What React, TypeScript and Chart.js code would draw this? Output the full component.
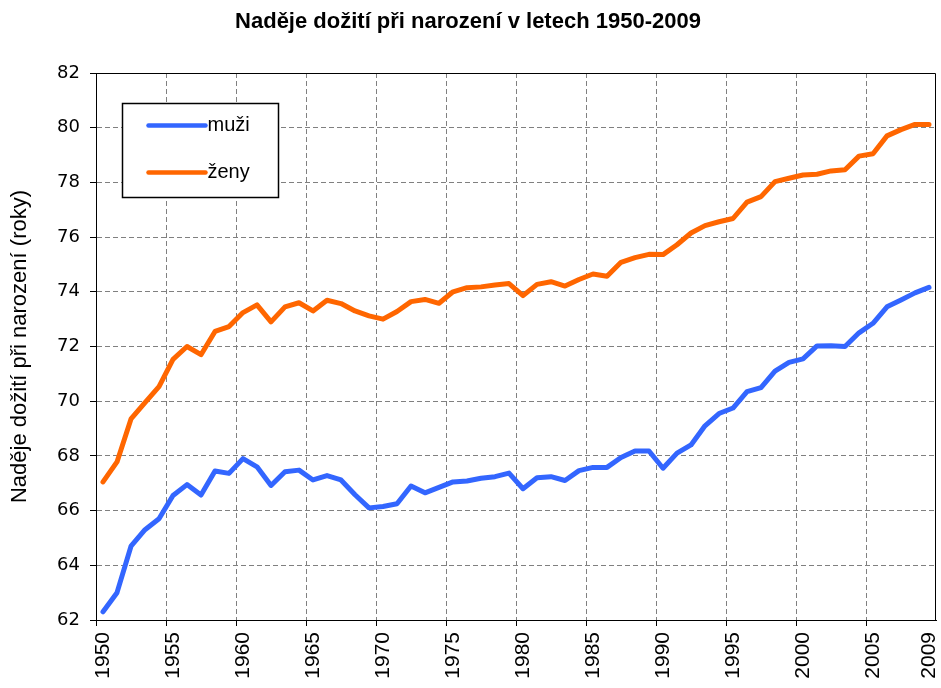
import React, { useEffect, useRef } from 'react';
import { Chart, registerables } from 'chart.js';

Chart.register(...registerables);

const TITLE = 'Naděje dožití při narození v letech 1950-2009';
const Y_TITLE = 'Naděje dožití při narození (roky)';

const years = [
  '1950', '1951', '1952', '1953', '1954', '1955', '1956', '1957', '1958', '1959',
  '1960', '1961', '1962', '1963', '1964', '1965', '1966', '1967', '1968', '1969',
  '1970', '1971', '1972', '1973', '1974', '1975', '1976', '1977', '1978', '1979',
  '1980', '1981', '1982', '1983', '1984', '1985', '1986', '1987', '1988', '1989',
  '1990', '1991', '1992', '1993', '1994', '1995', '1996', '1997', '1998', '1999',
  '2000', '2001', '2002', '2003', '2004', '2005', '2006', '2007', '2008', '2009',
];

const tickLabels = ['1950', '1955', '1960', '1965', '1970', '1975', '1980', '1985', '1990', '1995', '2000', '2005', '2009'];

const muzi = [
  62.3, 63.0, 64.7, 65.3, 65.7, 66.55, 66.95, 66.57, 67.45, 67.36,
  67.9, 67.6, 66.92, 67.42, 67.48, 67.12, 67.28, 67.12, 66.58, 66.1,
  66.15, 66.25, 66.9, 66.65, 66.85, 67.05, 67.08, 67.18, 67.24, 67.37,
  66.8, 67.2, 67.24, 67.1, 67.46, 67.58, 67.58, 67.94, 68.18, 68.18,
  67.55, 68.1, 68.4, 69.1, 69.55, 69.75, 70.35, 70.5, 71.1, 71.42,
  71.55, 72.02, 72.03, 72.0, 72.5, 72.85, 73.45, 73.7, 73.96, 74.16,
];

const zeny = [
  67.05, 67.78, 69.35, 69.95, 70.53, 71.53, 72.0, 71.7, 72.55, 72.73,
  73.24, 73.52, 72.9, 73.45, 73.6, 73.3, 73.69, 73.57, 73.3, 73.12,
  73.0, 73.28, 73.64, 73.72, 73.58, 74.0, 74.15, 74.18, 74.25, 74.3,
  73.86, 74.27, 74.37, 74.21, 74.45, 74.65, 74.57, 75.08, 75.25, 75.37,
  75.36, 75.72, 76.15, 76.42, 76.56, 76.68, 77.28, 77.48, 78.03, 78.15,
  78.27, 78.3, 78.42, 78.46, 78.96, 79.05, 79.7, 79.93, 80.12, 80.12,
];

const Y_MIN = 62;
const Y_MAX = 82;
const Y_STEP = 2;

const FONT = "'Liberation Sans', Arial, sans-serif";
const TICK_FONT = "'DejaVu Sans', 'Liberation Sans', sans-serif";

const framePlugin = {
  id: 'frameAndLegend',
  afterDatasetsDraw(chart: any) {
    const { ctx, chartArea } = chart;
    const { left, top, right } = chartArea;
    ctx.save();
    // plot-area frame (top and right)
    ctx.strokeStyle = '#000';
    ctx.lineWidth = 1;
    ctx.beginPath();
    ctx.moveTo(Math.round(left) + 0.5, Math.round(top) + 0.5);
    ctx.lineTo(Math.round(right) - 0.5, Math.round(top) + 0.5);
    ctx.lineTo(Math.round(right) - 0.5, Math.round(chartArea.bottom) + 0.5);
    ctx.stroke();

    // legend box
    const bx = Math.round(left + 26) + 0.5;
    const by = Math.round(top + 30) + 0.5;
    const bw = 156;
    const bh = 94;
    ctx.fillStyle = '#fff';
    ctx.fillRect(bx, by, bw, bh);
    ctx.lineWidth = 1.5;
    ctx.strokeStyle = '#000';
    ctx.strokeRect(bx, by, bw, bh);

    const items = chart.data.datasets;
    items.forEach((ds: any, i: number) => {
      const ly = by + 22 + i * 47;
      ctx.strokeStyle = ds.borderColor;
      ctx.lineWidth = 4.5;
      ctx.lineCap = 'round';
      ctx.beginPath();
      ctx.moveTo(bx + 26, ly);
      ctx.lineTo(bx + 83, ly);
      ctx.stroke();
      ctx.fillStyle = '#000';
      ctx.font = `20px ${FONT}`;
      ctx.textAlign = 'left';
      ctx.textBaseline = 'middle';
      ctx.fillText(ds.label, bx + 85, ly);
    });
    ctx.restore();
  },
};

export default function App() {
  const ref = useRef<HTMLCanvasElement>(null);

  useEffect(() => {
    const chart = new Chart(ref.current as HTMLCanvasElement, {
      type: 'line',
      data: {
        labels: years,
        datasets: [
          {
            label: 'muži',
            data: muzi,
            borderColor: '#3366FF',
            backgroundColor: '#3366FF',
            borderWidth: 5,
            pointRadius: 0,
            tension: 0,
            borderJoinStyle: 'round',
            borderCapStyle: 'round',
          },
          {
            label: 'ženy',
            data: zeny,
            borderColor: '#FF6600',
            backgroundColor: '#FF6600',
            borderWidth: 5,
            pointRadius: 0,
            tension: 0,
            borderJoinStyle: 'round',
            borderCapStyle: 'round',
          },
        ],
      },
      options: {
        animation: false,
        responsive: true,
        maintainAspectRatio: false,
        layout: { padding: { left: 0, right: 5, top: 0, bottom: 0 } },
        plugins: {
          legend: { display: false },
          tooltip: { enabled: false },
          title: {
            display: true,
            text: TITLE,
            color: '#000',
            font: { family: FONT, size: 22, weight: 'bold' },
            padding: { top: 9, bottom: 37.6 },
          },
        },
        scales: {
          x: {
            type: 'category',
            offset: true,
            grid: {
              offset: true,
              color: (c: any) => (c.index % 5 === 0 ? '#808080' : 'transparent'),
              tickColor: (c: any) => (c.index % 5 === 0 ? '#000' : 'transparent'),
              tickLength: 6,
              lineWidth: 1,
            },
            border: { display: true, color: '#000', width: 1, dash: [5, 3] },
            ticks: {
              autoSkip: false,
              maxRotation: 90,
              minRotation: 90,
              padding: 6,
              color: '#000',
              font: { family: FONT, size: 21 },
              callback: (_v: any, i: number) => (tickLabels.includes(years[i]) ? years[i] : ''),
            },
            afterFit: (s: any) => {
              s.height = 68;
              s.paddingLeft = 0;
              s.paddingRight = 0;
            },
          },
          y: {
            min: Y_MIN,
            max: Y_MAX,
            ticks: {
              stepSize: Y_STEP,
              padding: 10,
              color: '#000',
              font: { family: TICK_FONT, size: 18 },
            },
            grid: { color: '#808080', tickColor: '#000', tickLength: 6, lineWidth: 1 },
            border: { display: true, color: '#000', width: 1, dash: [5, 3] },
            title: {
              display: true,
              text: Y_TITLE,
              color: '#000',
              font: { family: FONT, size: 22 },
              padding: { top: 7, bottom: 0 },
            },
            afterFit: (s: any) => {
              s.width = 96;
              s.paddingTop = 0;
              s.paddingBottom = 0;
            },
          },
        },
      } as any,
      plugins: [framePlugin],
    });
    return () => chart.destroy();
  }, []);

  return (
    <div style={{ position: 'fixed', left: 0, top: 0, width: 941, height: 688, background: '#fff' }}>
      <canvas ref={ref} />
    </div>
  );
}
